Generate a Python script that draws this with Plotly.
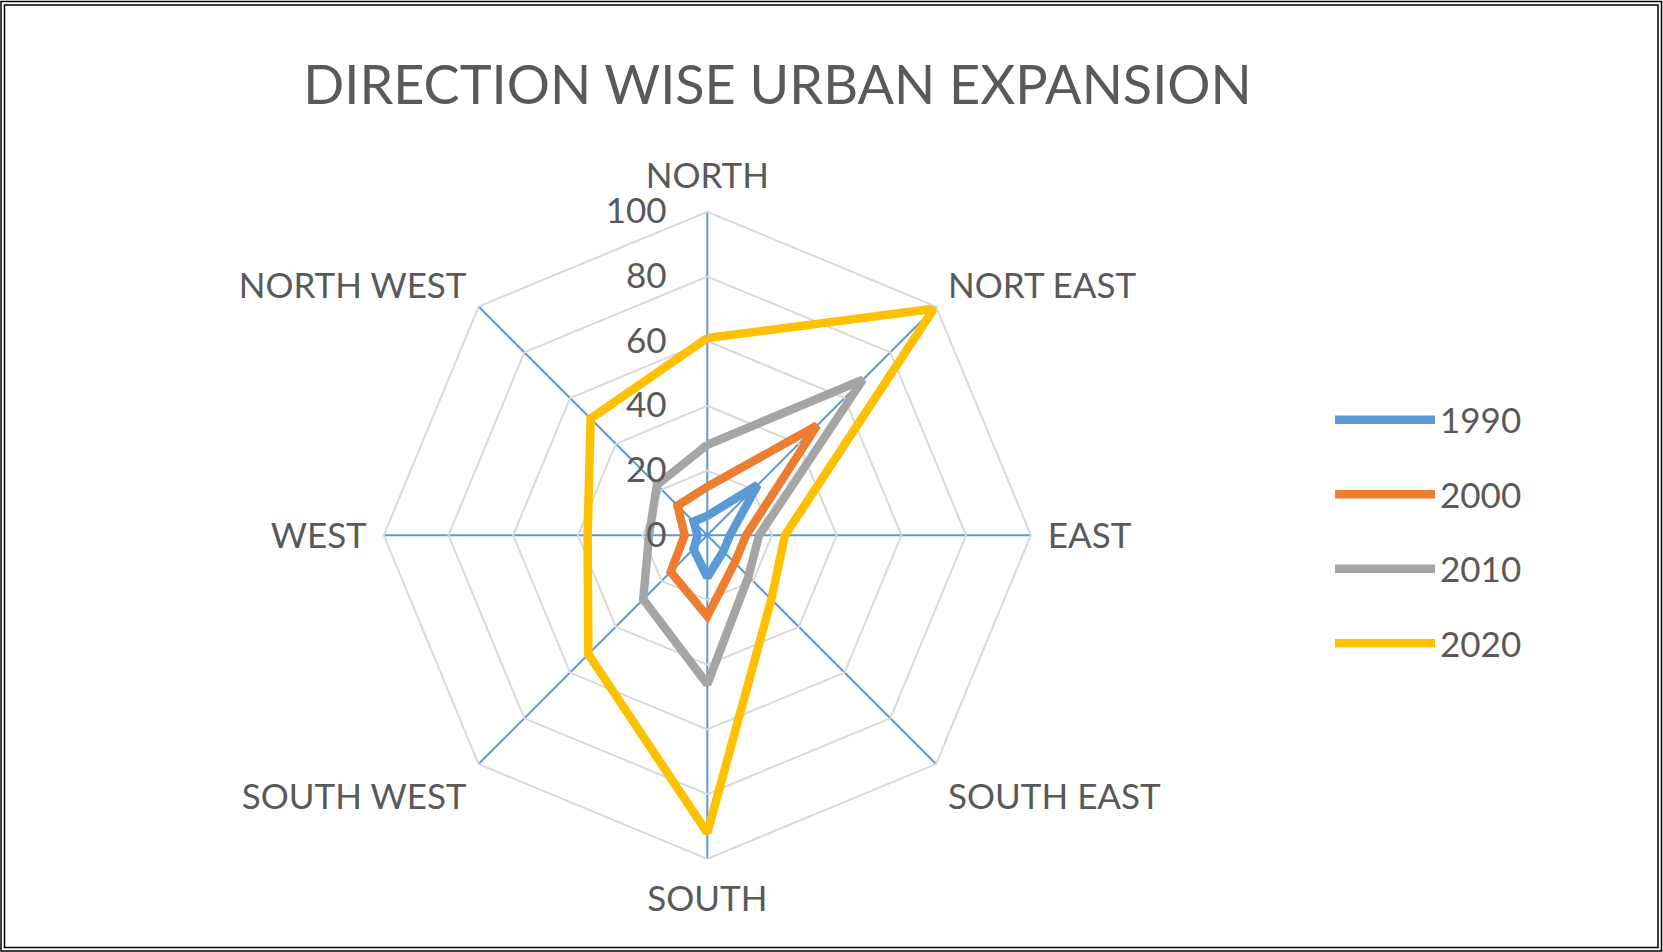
import plotly.graph_objects as go

directions = ["NORTH", "NORT EAST", "EAST", "SOUTH EAST", "SOUTH", "SOUTH WEST", "WEST", "NORTH WEST"]
years = ["1990", "2000", "2010", "2020"]
v1990 = [6, 22, 7, 7, 13, 6, 3, 6]
v2000 = [15, 48, 12, 12, 25, 16, 7, 13]
v2010 = [28, 68, 16, 18, 46, 28, 18, 22]
v2020 = [61, 99, 24, 28, 92, 52, 37, 51]
series = [v1990, v2000, v2010, v2020]
colors = ["#5B9BD5", "#ED7D31", "#A5A5A5", "#FFC000"]
radial_ticks = [0, 20, 40, 60, 80, 100]

W, H = 1663, 952
TXT = "#595959"
FONT = "Lato"

fig = go.Figure()
for i, (yr, vals) in enumerate(zip(years, series)):
    fig.add_trace(go.Scatterpolar(
        r=vals + vals[:1],
        theta=directions + directions[:1],
        mode="lines",
        name=yr,
        legendgroup=yr,
        line=dict(color=colors[i], width=8.5),
        hoverinfo="skip",
    ))

cx, cy, R = 707.3, 535.3, 323.5
fig.update_layout(
    width=W, height=H,
    margin=dict(l=0, r=0, t=0, b=0),
    paper_bgcolor="white",
    plot_bgcolor="white",
    font=dict(family=FONT, color=TXT, size=35),
    title=dict(text="DIRECTION WISE URBAN EXPANSION", x=777.5 / W, xanchor="center",
               y=1 - 85 / H, yanchor="middle",
               font=dict(family=FONT, size=54, color=TXT)),
    polar=dict(
        domain=dict(x=[(cx - R) / W, (cx + R) / W], y=[(H - cy - R) / H, (H - cy + R) / H]),
        bgcolor="white",
        gridshape="linear",
        angularaxis=dict(
            rotation=90, direction="clockwise",
            showgrid=True, gridcolor="#5B9BD5", gridwidth=1.5,
            showline=True, linecolor="#D9D9D9", linewidth=2,
            ticks="outside", ticklen=9, tickcolor="rgba(0,0,0,0)",
            tickfont=dict(family=FONT, size=35, color=TXT),
        ),
        radialaxis=dict(
            range=[0, 100], tickvals=radial_ticks, angle=90, tickangle=90,
            side="counterclockwise",
            showgrid=True, gridcolor="#D9D9D9", gridwidth=2,
            showline=False,
            ticks="outside", ticklen=28, tickcolor="rgba(0,0,0,0)",
            tickfont=dict(family=FONT, size=35, color=TXT),
        ),
    ),
    showlegend=True,
    legend=dict(
        x=1330 / W, xanchor="left", y=1 - 531.5 / H, yanchor="middle",
        font=dict(family=FONT, size=35, color=TXT),
        tracegroupgap=26, itemwidth=100,
        bgcolor="rgba(0,0,0,0)",
    ),
    shapes=[
        dict(type="rect", xref="paper", yref="paper",
             x0=1 / W, x1=1 - 1.5 / W, y0=1 - 1.5 / H, y1=1 - 951 / H,
             line=dict(color="black", width=1.5), fillcolor="rgba(0,0,0,0)"),
        dict(type="rect", xref="paper", yref="paper",
             x0=4.5 / W, x1=1 - 5 / W, y0=1 - 5 / H, y1=1 - 947.5 / H,
             line=dict(color="black", width=1.5), fillcolor="rgba(0,0,0,0)"),
    ],
)

fig.write_html("out.html")
